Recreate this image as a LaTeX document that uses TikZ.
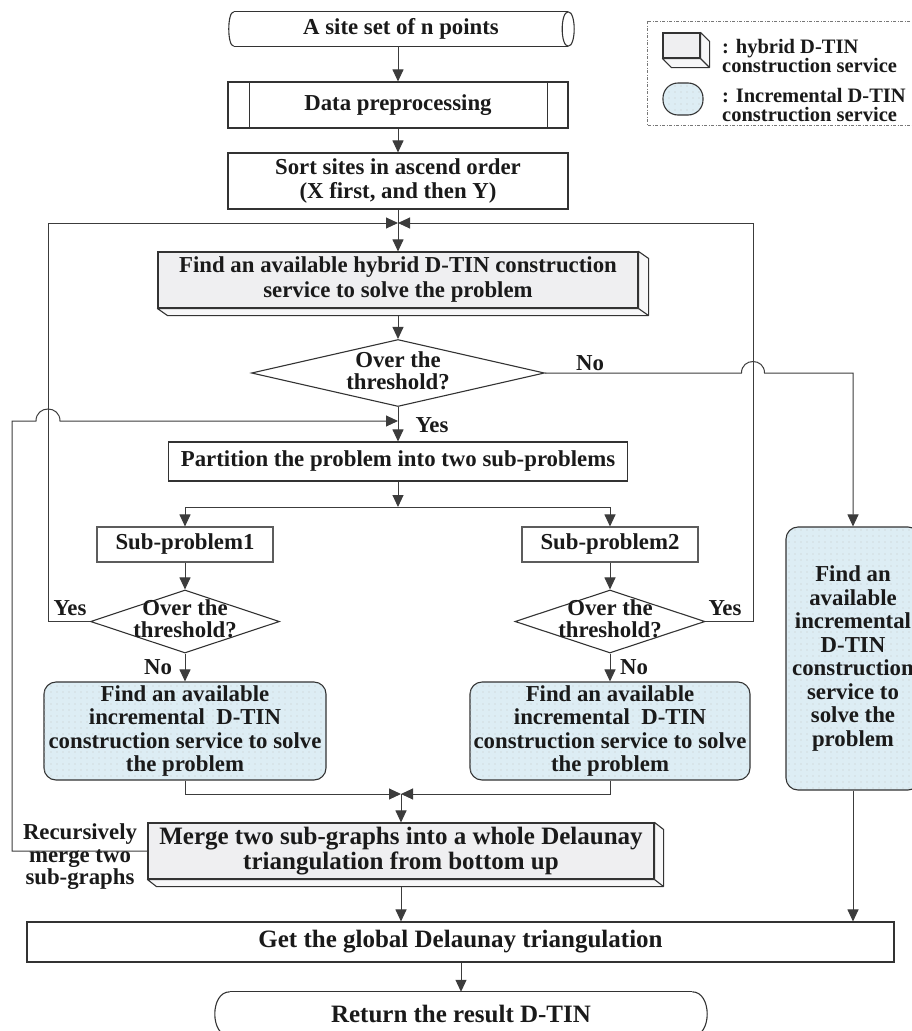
\documentclass[tikz,border=0pt]{standalone}
\usepackage{fontspec}
\setmainfont{Liberation Serif}
\usetikzlibrary{shapes.geometric,arrows.meta,calc,patterns.meta}
\definecolor{incblue}{HTML}{DDEDF4}
\definecolor{hybfront}{HTML}{EFEFF1}
\definecolor{hybside}{HTML}{F7F7F8}
\definecolor{ink}{HTML}{1A1A1A}
\definecolor{edge}{HTML}{333333}
\definecolor{conn}{HTML}{3C3C3C}
\definecolor{legline}{HTML}{777777}
\tikzdeclarepattern{
  name=sparsedots,
  type=uncolored,
  bounding box={(-0.5pt,-0.5pt) and (6.5pt,6.5pt)},
  tile size={(6pt,6pt)},
  code={\fill (3pt,3pt) circle (0.55pt);}
}
\tikzset{
  base/.style={font=\bfseries\fontsize{22.8}{24.5}\selectfont, text=ink, align=center, inner sep=0pt},
  big/.style={font=\bfseries\fontsize{25}{25.5}\selectfont},
  box/.style={base, rectangle, draw=edge, line width=1.1pt, fill=white},
  plainbox/.style={base, rectangle},
  hybbox/.style={box, fill=hybfront},
  incbox/.style={base, rectangle, draw=edge, line width=1.1pt, rounded corners=12pt, fill=incblue,
    postaction={pattern=sparsedots, pattern color=black!22}},
  dia/.style={diamond, draw=edge, line width=1.1pt, inner sep=0pt, fill=white},
  diatext/.style={base, font=\bfseries\fontsize{22.8}{22}\selectfont},
  inctext/.style={font=\bfseries\fontsize{22.8}{23.5}\selectfont},
  lab/.style={base},
  leglab/.style={base, align=left, font=\bfseries\fontsize{20.5}{18.5}\selectfont},
  arr/.style={draw=conn, line width=1pt, -{Triangle[length=12pt,width=11pt]}},
  conn/.style={draw=conn, line width=1pt},
  face/.style={draw=edge, line width=1.1pt, fill=hybside, line join=round},
  outline/.style={draw=edge, line width=1.1pt},
}
\begin{document}
\begin{tikzpicture}[x=1pt,y=-1pt]
\path[use as bounding box] (0,0) rectangle (912,1031);
\clip (0,0) rectangle (912,1031);

% ---------- legend ----------
\draw[legline, line width=0.8pt, dash pattern=on 3pt off 1.5pt on 1pt off 1.5pt] (647,21) rectangle (930,125);
\node[hybbox, minimum width=37pt, minimum height=25pt] (leg1) at (681.5,45.5) {};
\node[incbox, rounded corners=15pt, minimum width=40pt, minimum height=32pt] (leg2) at (683,99) {};
\node[leglab, anchor=west] (leg1t) at (722,56) {: hybrid D-TIN\\construction service};
\node[leglab, anchor=west] (leg2t) at (722,105) {: Incremental D-TIN\\construction service};

% ---------- main nodes ----------
\node[plainbox, minimum width=334pt, minimum height=34pt] (start) at (401,29) {A site set of n points};
\node[box, minimum width=340pt, minimum height=46pt] (data) at (398,105) {Data preprocessing};
\node[box, minimum width=340pt, minimum height=56pt] (sort) at (398,181) {Sort sites in ascend order\\(X first, and then Y)};
\node[hybbox, minimum width=480pt, minimum height=56pt, font=\bfseries\fontsize{22.8}{25}\selectfont] (hyb) at (398,280)
  {Find an available hybrid D-TIN construction\\service to solve the problem};
\node[dia, minimum width=293pt, minimum height=67pt] (d1) at (398,373) {};
\node[diatext] (d1t) at (398,371) {Over the\\threshold?};
\node[box, minimum width=459pt, minimum height=39pt] (part) at (398,461.5) {Partition the problem into two sub-problems};
\node[box, minimum width=176pt, minimum height=35pt, draw=edge!80] (sub1) at (185,544.5) {Sub-problem1};
\node[box, minimum width=176pt, minimum height=35pt, draw=edge!80] (sub2) at (610,544.5) {Sub-problem2};
\node[dia, minimum width=189pt, minimum height=63pt] (dL) at (185,621.5) {};
\node[diatext] (dLt) at (185,619) {Over the\\threshold?};
\node[dia, minimum width=190pt, minimum height=63pt] (dR) at (610,621.5) {};
\node[diatext] (dRt) at (610,619) {Over the\\threshold?};
\node[incbox, inctext, minimum width=282pt, minimum height=98pt] (inc1) at (185,731)
  {Find an available\\incremental~ D-TIN\\construction service to solve\\the problem};
\node[incbox, inctext, minimum width=280pt, minimum height=98pt] (inc2) at (610,731)
  {Find an available\\incremental~ D-TIN\\construction service to solve\\the problem};
\node[incbox, inctext, minimum width=134pt, minimum height=263pt] (rbox) at (853,658.5)
  {Find an\\available\\incremental\\D-TIN\\construction\\service to\\solve the\\problem};
\node[hybbox, big, minimum width=506pt, minimum height=56pt] (merge) at (401,851)
  {Merge two sub-graphs into a whole Delaunay\\triangulation from bottom up};
\node[box, big, minimum width=867pt, minimum height=40pt] (get) at (460.5,942) {Get the global Delaunay triangulation};
\node[plainbox, big, minimum width=462pt, minimum height=44pt] (ret) at (461,1014) {Return the result D-TIN};

% ---------- special outlines ----------
% start: horizontal cylinder
\draw[outline] (start.north west) -- (start.north east);
\draw[outline] (start.south west) -- (start.south east);
\draw[outline] (start.north west) .. controls +(-6.7,0) and +(-6.7,0) .. (start.south west);
\draw[outline] (start.north east) .. controls +(8,0) and +(8,0) .. (start.south east);
\draw[outline] (start.north east) .. controls +(-8,0) and +(-8,0) .. (start.south east);
% data: inner bars
\draw[outline] ($(data.north west)+(22,0)$) -- ($(data.south west)+(22,0)$);
\draw[outline] ($(data.north east)+(-21,0)$) -- ($(data.south east)+(-21,0)$);
% return: rounded ends
\draw[outline] (ret.north west) -- (ret.north east);
\draw[outline] (ret.south west) -- (ret.south east);
\draw[outline] (ret.north west) .. controls +(-20,0) and +(-20,0) .. (ret.south west);
\draw[outline] (ret.north east) .. controls +(20,0) and +(20,0) .. (ret.south east);
% 3D faces
\foreach \n/\dx/\dy in {hyb/10/7, merge/9/7, leg1/9/9}{
  \filldraw[face] (\n.north east) -- ++(\dx,\dy) -- ($(\n.south east)+(\dx,\dy)$) -- ($(\n.south west)+(\dx,\dy)$)
     -- (\n.south west) -- (\n.south east) -- cycle;
  \draw[face] (\n.south east) -- ++(\dx,\dy);
}

% ---------- helper coordinates ----------
\coordinate (jtop) at (398,223);
\coordinate (jmid) at (398,421);
\coordinate (split) at (398,507);
\coordinate (fl) at (48,223);
\coordinate (fr) at (753,223);
\coordinate (lx) at (12,421);
\coordinate (bow) at (401,794);
\coordinate (hb) at ($(hyb.south)+(0,7)$);
\coordinate (mb) at ($(merge.south)+(0,7)$);

% ---------- connectors ----------
\draw[arr] (data.north |- start.south) -- (data.north);
\draw[arr] (data) -- (sort);
\draw[arr] (sort) -- (hyb);
\draw[arr] (hb) -- (d1.north);
\draw[arr] (d1.south) -- (part.north);
\draw[arr] (part.south) -- (split);
\draw[arr] (split) -| (sub1.north);
\draw[arr] (split) -| (sub2.north);
\draw[arr] (sub1) -- (dL);
\draw[arr] (sub2) -- (dR);
\draw[arr] (dL) -- (inc1);
\draw[arr] (dR) -- (inc2);
\draw[arr] (inc1.south) |- (bow);
\draw[arr] (inc2.south) |- (bow);
\draw[arr] (bow) -- (merge.north);
\draw[arr] (mb) -- (mb |- get.north);
\draw[arr] (rbox.south) -- (rbox.south |- get.north);
\draw[arr] (get.south -| ret.north) -- (ret.north);
% feedback loops
\draw[arr] (dL.west) -| (fl) -- (jtop);
\draw[arr] (dR.east) -| (fr) -- (jtop);
\draw[arr] (merge.west) -| (lx) -- ($(jmid -| fl)+(-12,0)$) .. controls +(0,-16) and +(0,-16) .. ($(jmid -| fl)+(12,0)$) -- (jmid);
\draw[arr] (d1.east) -- ($(d1.east -| fr)+(-11.5,0)$) .. controls +(0,-15.3) and +(0,-15.3) .. ($(d1.east -| fr)+(11.5,0)$) -| (rbox.north);

% ---------- labels ----------
\node[lab] (no1) at (590,363) {No};
\node[lab] (yes1) at (432,425) {Yes};
\node[lab] (yes2) at (70,608) {Yes};
\node[lab] (yes3) at (725,608) {Yes};
\node[lab] (no2) at (158,667) {No};
\node[lab] (no3) at (634,667) {No};
\node[lab, font=\bfseries\fontsize{22.8}{22.5}\selectfont] (rec) at (80,857) {Recursively\\merge two\\sub-graphs};
\end{tikzpicture}
\end{document}
